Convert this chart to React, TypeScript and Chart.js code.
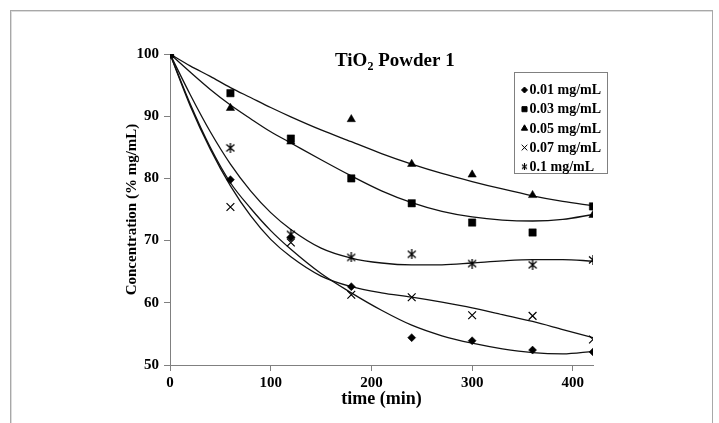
import React, { useEffect, useRef } from 'react';
import { Chart, registerables } from 'chart.js';
import { drawPoint } from 'chart.js/helpers';

Chart.register(...registerables);

const FONT = "'Liberation Serif', 'Times New Roman', serif";

// ---- data ----
const seriesLabels = ['0.01 mg/mL', '0.03 mg/mL', '0.05 mg/mL', '0.07 mg/mL', '0.1 mg/mL'];
const times = [0, 60, 120, 180, 240, 300, 360, 420];
const conc001 = [100, 79.8, 70.5, 62.6, 54.4, 53.9, 52.4, 52.1];
const conc003 = [100, 93.7, 86.4, 80.0, 76.0, 72.9, 71.3, 75.5];
const conc005 = [100, 91.3, 85.9, 89.5, 82.3, 80.6, 77.3, 74.1];
const conc007 = [100, 75.4, 69.7, 61.3, 60.9, 58.0, 57.9, 54.1];
const conc01 = [100, 84.9, 71.0, 67.3, 67.8, 66.3, 66.1, 66.9];

// trend lines
const trendTimes = [0, 20, 40, 60, 80, 100, 120, 150, 180, 210, 240, 270, 300, 330, 360, 390, 420];
const trend001 = [100, 92.0, 85.0, 79.3, 75.2, 71.6, 68.6, 64.7, 61.6, 58.8, 56.4, 54.7, 53.5, 52.6, 52.0, 51.8, 52.2];
const trend003 = [100, 97.1, 94.3, 91.8, 89.6, 87.5, 85.7, 83.0, 80.4, 78.0, 76.1, 74.7, 73.8, 73.3, 73.15, 73.4, 74.2];
const trend005 = [100, 98.1, 96.4, 94.6, 93.0, 91.4, 89.9, 87.8, 85.9, 84.0, 82.3, 80.8, 79.5, 78.3, 77.2, 76.3, 75.6];
const trend007 = [100, 91.7, 84.7, 78.8, 74.0, 70.2, 67.4, 64.3, 62.6, 61.6, 60.9, 60.1, 59.2, 58.1, 57.0, 55.7, 54.4];
const trend01 = [100, 93.5, 87.5, 82.3, 78.0, 74.5, 71.8, 68.8, 67.2, 66.4, 66.1, 66.1, 66.4, 66.75, 66.95, 66.95, 66.7];

const xTicks = [0, 100, 200, 300, 400];
const yTicks = [50, 60, 70, 80, 90, 100];
const xRange = [0, 420];
const yRange = [50, 100];
const titleMain = 'TiO';
const titleSub = '2';
const titleRest = ' Powder 1';
const xTitle = 'time (min)';
const yTitle = 'Concentration (% mg/mL)';

function makeAsterisk(size: number, lw: number) {
  const c = document.createElement('canvas');
  c.width = size;
  c.height = size;
  const g = c.getContext('2d')!;
  g.strokeStyle = '#000';
  g.lineWidth = lw;
  g.beginPath();
  g.moveTo(1, 1.5);
  g.lineTo(size - 1, size - 1.5);
  g.moveTo(size - 1, 1.5);
  g.lineTo(1, size - 1.5);
  g.moveTo(size / 2, 0);
  g.lineTo(size / 2, size);
  g.stroke();
  return c;
}

export default function App() {
  const ref = useRef<HTMLCanvasElement | null>(null);

  useEffect(() => {
    const canvas = ref.current;
    if (!canvas) return;
    const astBig = makeAsterisk(10, 1.3);
    const astSmall = makeAsterisk(7, 1.1);

    const pointSpecs: any[] = [
      { style: 'rectRot', r: 4, fill: true, lr: 3 },
      { style: 'rect', r: 5.2, fill: true, lr: 3.6 },
      { style: 'triangle', r: 4.8, fill: true, lr: 3.6 },
      { style: 'crossRot', r: 5.5, fill: false, lr: 4 },
      { style: astBig, r: 5, fill: false, lr: 3, legendStyle: astSmall },
    ];
    const seriesValues = [conc001, conc003, conc005, conc007, conc01];
    const trendValues = [trend001, trend003, trend005, trend007, trend01];

    const scatterSets = seriesValues.map((vals, i) => ({
      label: seriesLabels[i],
      data: times.map((t, j) => ({ x: t, y: vals[j] })),
      showLine: false,
      pointStyle: pointSpecs[i].style,
      pointRadius: pointSpecs[i].r,
      pointBackgroundColor: '#000',
      pointBorderColor: '#000',
      pointBorderWidth: pointSpecs[i].fill ? 0.5 : 1.2,
      order: 0,
    }));
    const trendSets = trendValues.map((vals, i) => ({
      label: seriesLabels[i] + ' trend',
      data: trendTimes.map((t, j) => ({ x: t, y: vals[j] })),
      showLine: true,
      pointRadius: 0,
      borderColor: '#111',
      borderWidth: 1.3,
      cubicInterpolationMode: 'monotone',
      fill: false,
      order: 1,
    }));

    const overlay = {
      id: 'overlay',
      afterDraw(chart: any) {
        const { ctx, chartArea: a } = chart;
        ctx.save();
        ctx.fillStyle = '#000';
        // title
        ctx.textBaseline = 'alphabetic';
        ctx.textAlign = 'left';
        const tx = a.left + 165;
        const ty = a.top + 12;
        ctx.font = `bold 19px ${FONT}`;
        ctx.fillText(titleMain, tx, ty);
        let w = ctx.measureText(titleMain).width;
        ctx.font = `bold 12px ${FONT}`;
        ctx.fillText(titleSub, tx + w, ty + 4);
        w += ctx.measureText(titleSub).width;
        ctx.font = `bold 19px ${FONT}`;
        ctx.fillText(titleRest, tx + w, ty);
        // legend
        const lx = a.left + 344.5;
        const ly = a.top + 18.5;
        ctx.fillStyle = '#fff';
        ctx.fillRect(lx, ly, 93, 101);
        ctx.strokeStyle = '#808080';
        ctx.lineWidth = 1;
        ctx.strokeRect(lx, ly, 93, 101);
        ctx.font = `bold 14px ${FONT}`;
        ctx.textBaseline = 'middle';
        seriesLabels.forEach((lab, i) => {
          const y = ly + 17.5 + i * 19.2;
          const spec = pointSpecs[i];
          ctx.fillStyle = '#000';
          ctx.strokeStyle = '#000';
          drawPoint(ctx, {
            pointStyle: spec.legendStyle || spec.style,
            radius: spec.lr,
            borderWidth: spec.fill ? 0.5 : 1.1,
            rotation: 0,
          } as any, lx + 10, y);
          ctx.fillStyle = '#000';
          ctx.fillText(lab, lx + 15, y + 0.5);
        });
        ctx.restore();
      },
    };

    const axisFont = { family: FONT, size: 15, weight: 'bold' as const };

    const chart = new Chart(canvas, {
      type: 'scatter',
      data: { datasets: [...scatterSets, ...trendSets] as any },
      options: {
        animation: false,
        responsive: false,
        layout: { padding: { left: 110, right: 126, top: 54, bottom: 8 } },
        plugins: {
          legend: { display: false },
          tooltip: { enabled: false },
          title: { display: false },
        },
        scales: {
          x: {
            type: 'linear',
            position: 'bottom',
            min: xRange[0],
            max: xRange[1],
            afterBuildTicks: (s: any) => {
              s.ticks = xTicks.map((v) => ({ value: v }));
            },
            afterFit: (s: any) => {
              s.height = 50;
            },
            ticks: { font: axisFont, color: '#000', padding: 3, maxRotation: 0 },
            grid: {
              display: true,
              drawOnChartArea: false,
              drawTicks: true,
              tickLength: 6,
              color: '#808080',
              lineWidth: 1,
            },
            border: { display: true, color: '#808080', width: 1 },
            title: {
              display: true,
              text: xTitle,
              color: '#000',
              font: { family: FONT, size: 18, weight: 'bold' },
              padding: { top: 0, bottom: 5 },
            },
          },
          y: {
            type: 'linear',
            min: yRange[0],
            max: yRange[1],
            afterBuildTicks: (s: any) => {
              s.ticks = yTicks.map((v) => ({ value: v }));
            },
            afterFit: (s: any) => {
              s.width = 60;
            },
            ticks: { font: axisFont, color: '#000', padding: 5 },
            grid: {
              display: true,
              drawOnChartArea: false,
              drawTicks: true,
              tickLength: 6,
              color: '#808080',
              lineWidth: 1,
            },
            border: { display: true, color: '#808080', width: 1 },
            title: {
              display: true,
              text: yTitle,
              color: '#000',
              font: { family: FONT, size: 15, weight: 'bold' },
              padding: { top: 13, bottom: 0 },
            },
          },
        },
      } as any,
      plugins: [overlay],
    });
    return () => chart.destroy();
  }, []);

  return (
    <div>
      <div
        style={{
          position: 'absolute',
          left: 10,
          top: 10,
          width: 703,
          height: 440,
          border: '1px solid #a8a8a8',
          boxShadow: 'inset 1px 1px 0 #dcdcdc',
          boxSizing: 'border-box',
        }}
      />
      <canvas
        ref={ref}
        width={719}
        height={423}
        style={{ position: 'absolute', left: 0, top: 0, width: 719, height: 423 }}
      />
    </div>
  );
}
